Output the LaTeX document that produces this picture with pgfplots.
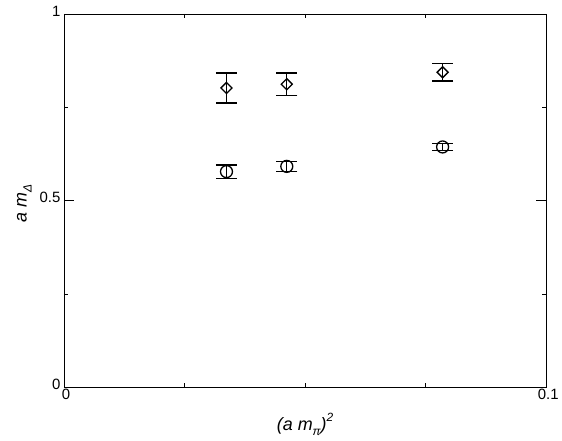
\documentclass[border=0pt]{standalone}
\usepackage{fontspec}
\setmainfont{Liberation Sans}
\usepackage{pgfplots}
\pgfplotsset{compat=1.18}

% a m_Delta against (a m_pi)^2, two states
\pgfplotstableread{
x       y      err
0.0337  0.802  0.040
0.0462  0.812  0.030
0.0785  0.844  0.023
}\diamonddata
\pgfplotstableread{
x       y      err
0.0337  0.578  0.018
0.0462  0.592  0.013
0.0785  0.644  0.009
}\circledata

\newcommand{\lowsub}[1]{\raisebox{-5bp}{\fontsize{12}{12}\selectfont #1}}
\newcommand{\highsup}[1]{\raisebox{9bp}{\fontsize{12}{12}\selectfont #1}}

\begin{document}
\begin{tikzpicture}
  \begin{axis}[
    width=483bp, height=374bp, scale only axis,
    xmin=0, xmax=0.1, ymin=0, ymax=1,
    xtick={0,0.1}, minor xtick={0.025,0.05,0.075},
    ytick={0,0.5,1}, minor ytick={0.25,0.75},
    xticklabels={0,0.1}, yticklabels={0,0.5,1},
    tick align=inside,
    major tick length=10bp, minor tick length=4.5bp,
    tick style={black, line width=0.6bp},
    axis line style={line width=0.8bp},
    every tick label/.append style={font=\fontsize{15}{17}\selectfont},
    xticklabel style={yshift=2bp, xshift=2bp},
    yticklabel style={xshift=0bp, yshift=3bp},
    label style={font=\fontsize{18}{20}\selectfont\itshape},
    xlabel={(a m\lowsub{π})\highsup{2}},
    ylabel={a m\lowsub{Δ}},
    xlabel style={at={(axis description cs:0.5,0)}, anchor=center, yshift=-37bp},
    ylabel style={at={(axis description cs:-0.082,0.492)}, anchor=center},
    /pgf/number format/assume math mode=true,
    clip=false,
    error bars/y dir=both, error bars/y explicit,
    error bars/error bar style={black, line width=1.4bp},
    error bars/error mark options={rotate=90, mark size=10.5bp, line width=1.4bp, black},
  ]
  \addplot[only marks, mark=square, mark size=3.9bp,
    mark options={rotate=45, line width=1.3bp, black, fill=white}]
    table[x=x, y=y, y error=err] {\diamonddata};
  \addplot[only marks, mark=o, mark size=6bp,
    mark options={line width=1.3bp, black}]
    table[x=x, y=y, y error=err] {\circledata};
  \end{axis}
  \path ([shift={(-64bp,-53bp)}]current axis.south west)
    rectangle ([shift={(15bp,14bp)}]current axis.north east);
\end{tikzpicture}
\end{document}
